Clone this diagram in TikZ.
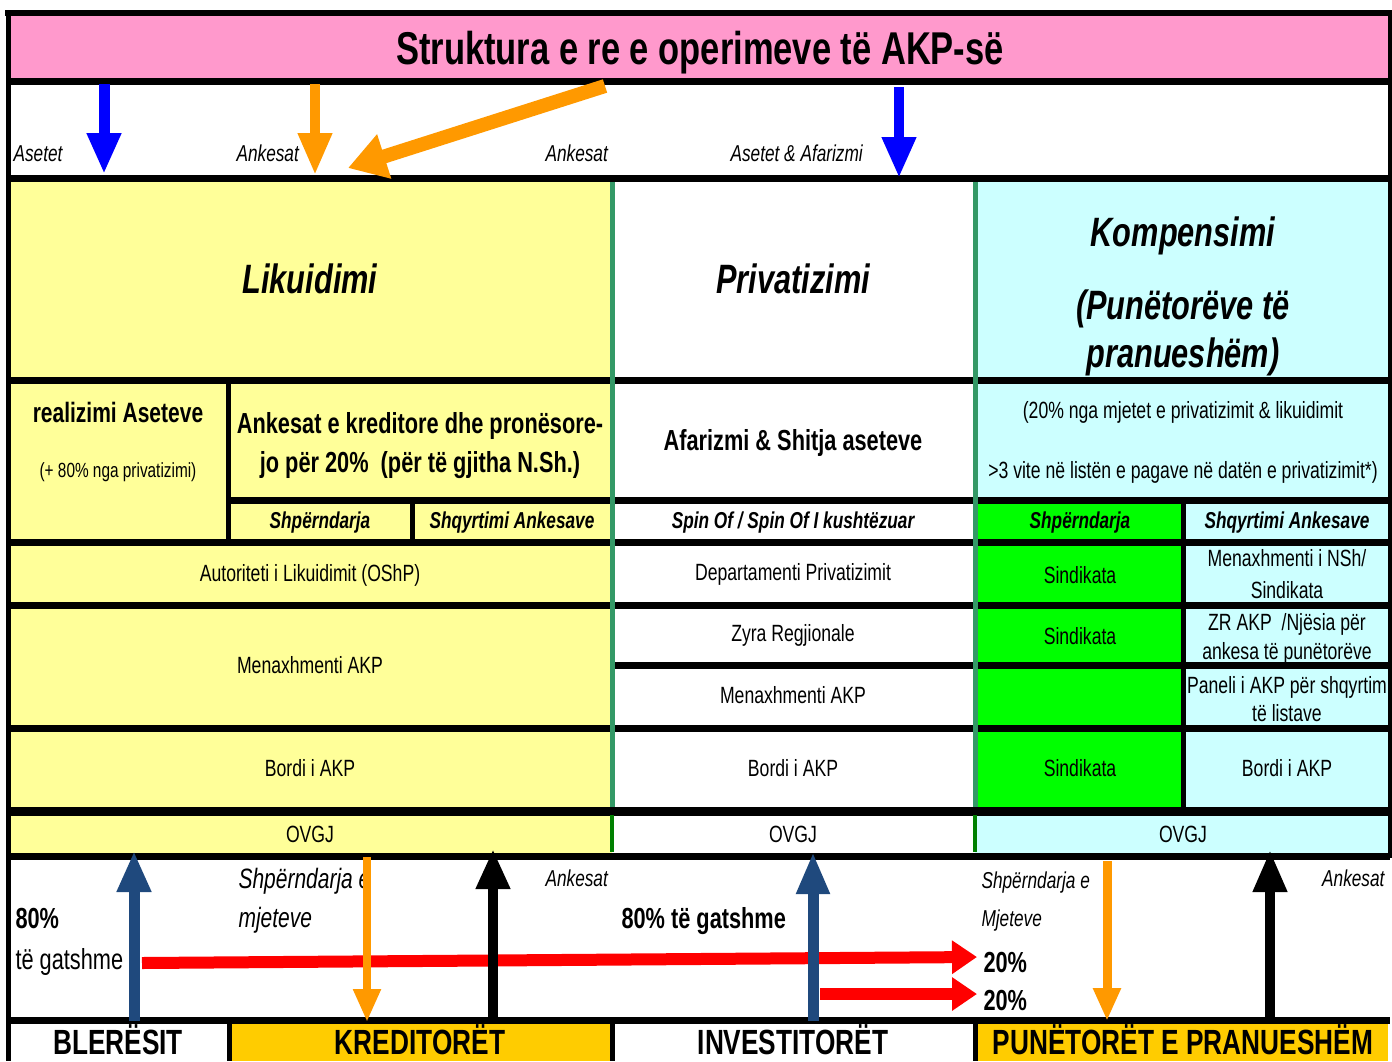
\documentclass[tikz,border=0pt]{standalone}
\usepackage{fontspec}
\setmainfont{Liberation Sans}[FakeStretch=0.75]
\usepackage{tikz}
\usetikzlibrary{arrows.meta}

\definecolor{titlepink}{HTML}{FF99CC}
\definecolor{liqyellow}{HTML}{FFFF99}
\definecolor{compcyan}{HTML}{CCFFFF}
\definecolor{uniongreen}{HTML}{00FF00}
\definecolor{partyorange}{HTML}{FFCC00}
\definecolor{arrorange}{HTML}{FF9900}
\definecolor{arrnavy}{HTML}{1F497D}
\definecolor{colsep}{HTML}{339966}
\definecolor{ovgjsep}{HTML}{008000}

\begin{document}
\begin{tikzpicture}[x=1pt,y=-1pt,
    blk/.style={line width=7pt},
    blkthin/.style={line width=5pt},
    celltxt/.style={anchor=base,font=\fontsize{23.5}{28}\selectfont},
    cellbold/.style={anchor=base,font=\bfseries\fontsize{29}{34}\selectfont},
    subhead/.style={anchor=base,font=\bfseries\itshape\fontsize{23}{28}\selectfont},
    colhead/.style={anchor=base,font=\bfseries\itshape\fontsize{41}{48}\selectfont},
    flowtxt/.style={anchor=base west,font=\itshape\fontsize{23}{28}\selectfont},
    party/.style={anchor=base,font=\bfseries\fontsize{35}{40}\selectfont},
    blockarrow/.style n args={4}{draw=#1,line width=#2,-{Triangle[length=#3,width=#4]}}]
\useasboundingbox (0,0) rectangle (1392,1061);

% backgrounds
\fill[titlepink] (8,13) rectangle (1390,81);
\fill[liqyellow] (8,178) rectangle (612,856);
\fill[compcyan] (975,178) rectangle (1390,856);
\fill[uniongreen] (975,500) rectangle (1183,811);
\fill[partyorange] (229,1020) rectangle (612,1061);
\fill[partyorange] (975,1020) rectangle (1388,1061);

% black rules
\draw[line width=6pt] (5,13) -- (1392,13);
\draw[blkthin] (8,10) -- (8,1061);
\draw[blkthin] (1390,10) -- (1390,858);
\foreach \yy in {81,178,380,542,605,728,856,1020}
  \draw[blk] (8,\yy) -- (1390,\yy);
\draw[line width=9pt] (8,811) -- (1390,811);
\draw[blk] (228,500) -- (1390,500);
\draw[blk] (612,665) -- (1390,665);
\draw[blkthin] (228,380) -- (228,542);
\draw[blkthin] (412,500) -- (412,542);
\draw[blkthin] (1183,500) -- (1183,811);
\foreach \xx in {229,612,975}
  \draw[blkthin] (\xx,1020) -- (\xx,1061);

% column dividers
\draw[colsep,line width=5pt] (612,182) -- (612,807);
\draw[colsep,line width=5pt] (975,182) -- (975,807);
\draw[ovgjsep,line width=4pt] (612,815) -- (612,852);
\draw[ovgjsep,line width=4pt] (975,815) -- (975,852);

% title
\node[anchor=base,font=\bfseries\fontsize{46}{52}\selectfont] (title) at (700,64) {Struktura e re e operimeve të AKP-së};

% flows from the top
\node[flowtxt] (tAsetet) at (10,161.5) {Asetet};
\node[flowtxt] (tAnkL) at (233,161.5) {Ankesat};
\node[flowtxt] (tAnkM) at (542,161.5) {Ankesat};
\node[flowtxt] (tAsetAf) at (727,161.5) {Asetet \& Afarizmi};

% column heads
\node[colhead] (likuid) at (310,293) {Likuidimi};
\node[colhead] (privat) at (793,293) {Privatizimi};
\node[colhead] (kompA) at (1183,246) {Kompensimi};
\node[colhead] (kompB) at (1183,319) {(Punëtorëve të};
\node[colhead] (kompC) at (1183,367) {pranueshëm)};

% second band
\node[cellbold,font=\bfseries\fontsize{28}{34}\selectfont] (realiz) at (118,422) {realizimi Aseteve};
\node[celltxt,font=\fontsize{20.5}{24}\selectfont] (realizB) at (118,477) {(+ 80\% nga privatizimi)};
\node[cellbold] (ankKredA) at (420,433.5) {Ankesat e kreditore dhe pronësore-};
\node[cellbold] (ankKredB) at (420,472.5) {jo për 20\%\ \ (për të gjitha N.Sh.)};
\node[subhead] (shpL) at (320,528) {Shpërndarja};
\node[subhead] (shqL) at (512,528) {Shqyrtimi Ankesave};
\node[cellbold] (afariz) at (793,450.5) {Afarizmi \& Shitja aseteve};
\node[subhead] (spinof) at (793,528) {Spin Of / Spin Of I kushtëzuar};
\node[celltxt] (kompTxtA) at (1183,418.5) {(20\% nga mjetet e privatizimit \& likuidimit};
\node[celltxt] (kompTxtB) at (1183,478.5) {>3 vite në listën e pagave në datën e privatizimit*)};
\node[subhead] (shpR) at (1080,528) {Shpërndarja};
\node[subhead] (shqR) at (1287,528) {Shqyrtimi Ankesave};

% bodies
\node[celltxt] (autor) at (310,581.5) {Autoriteti i Likuidimit (OShP)};
\node[celltxt] (menL) at (310,673.5) {Menaxhmenti AKP};
\node[celltxt] (bordL) at (310,776.5) {Bordi i AKP};
\node[celltxt] (ovgjL) at (310,842.5) {OVGJ};

\node[celltxt] (depPriv) at (793,580.5) {Departamenti Privatizimit};
\node[celltxt] (zyra) at (793,641.5) {Zyra Regjionale};
\node[celltxt] (menM) at (793,703.5) {Menaxhmenti AKP};
\node[celltxt] (bordM) at (793,776.5) {Bordi i AKP};
\node[celltxt] (ovgjM) at (793,842.5) {OVGJ};

\node[celltxt] (sindA) at (1080,583.5) {Sindikata};
\node[celltxt] (sindB) at (1080,644.5) {Sindikata};
\node[celltxt] (sindC) at (1080,776.5) {Sindikata};
\node[celltxt] (menNShA) at (1287,566.5) {Menaxhmenti i NSh/};
\node[celltxt] (menNShB) at (1287,598.5) {Sindikata};
\node[celltxt] (zrA) at (1287,630.5) {ZR AKP\ \ /Njësia për};
\node[celltxt] (zrB) at (1287,659.5) {ankesa të punëtorëve};
\node[celltxt] (panelA) at (1287,693.5) {Paneli i AKP për shqyrtim};
\node[celltxt] (panelB) at (1287,721.5) {të listave};
\node[celltxt] (bordR) at (1287,776.5) {Bordi i AKP};
\node[celltxt] (ovgjR) at (1183,842.5) {OVGJ};

% flows at the bottom
\node[flowtxt,font=\itshape\fontsize{28}{32}\selectfont] (shpMjA) at (235,888) {Shpërndarja e};
\node[flowtxt,font=\itshape\fontsize{28}{32}\selectfont] (shpMjB) at (235,927) {mjeteve};
\node[flowtxt] (ankBL) at (542,886.5) {Ankesat};
\node[anchor=base west,font=\bfseries\fontsize{29}{34}\selectfont] (gatA) at (12,928.5) {80\%};
\node[anchor=base west,font=\fontsize{29}{34}\selectfont] (gatB) at (12,969) {të gatshme};
\node[anchor=base west,font=\bfseries\fontsize{29}{34}\selectfont] (gatM) at (618,928.5) {80\% të gatshme};
\node[flowtxt] (shpRA) at (978,888.5) {Shpërndarja e};
\node[flowtxt] (shpRB) at (978,926.5) {Mjeteve};
\node[anchor=base west,font=\bfseries\fontsize{29}{34}\selectfont] (pctA) at (980,972.5) {20\%};
\node[anchor=base west,font=\bfseries\fontsize{29}{34}\selectfont] (pctB) at (980,1010.5) {20\%};
\node[flowtxt,anchor=base east] (ankBR) at (1388,886.5) {Ankesat};

% parties
\node[party] (blere) at (118,1054.6) {BLERËSIT};
\node[party] (kredit) at (420,1054.6) {KREDITORËT};
\node[party] (invest) at (793,1054.6) {INVESTITORËT};
\node[party] (punet) at (1183,1054.6) {PUNËTORËT E PRANUESHËM};

% arrow ends
\coordinate (aBlueS) at (104,84);   \coordinate (aBlueE) at (104,174);
\coordinate (aOrS) at (315,84);     \coordinate (aOrE) at (315,175);
\coordinate (aDiagS) at (605,86);   \coordinate (aDiagE) at (348,168);
\coordinate (aBlue2S) at (899,87);  \coordinate (aBlue2E) at (899,178);
\coordinate (bNavyS) at (134,1021); \coordinate (bNavyE) at (134,851);
\coordinate (bOrS) at (367,857);    \coordinate (bOrE) at (367,1022);
\coordinate (bBlkS) at (493,1021);  \coordinate (bBlkE) at (493,849);
\coordinate (bNavy2S) at (813,1021);\coordinate (bNavy2E) at (813,852);
\coordinate (bOr2S) at (1107,861);  \coordinate (bOr2E) at (1107,1021);
\coordinate (bBlk2S) at (1270,1021);\coordinate (bBlk2E) at (1270,850);
\coordinate (rLongS) at (142,963);  \coordinate (rLongE) at (977,957);
\coordinate (rShortS) at (820,994); \coordinate (rShortE) at (977,994);

\draw[blockarrow={red}{12pt}{25pt}{32pt}] (rLongS) -- (rLongE);
\draw[blockarrow={red}{12pt}{25pt}{32pt}] (rShortS) -- (rShortE);

\draw[blockarrow={blue}{11pt}{41pt}{32pt}] (aBlueS) -- (aBlueE);
\draw[blockarrow={arrorange}{10pt}{42pt}{32pt}] (aOrS) -- (aOrE);
\draw[blockarrow={arrorange}{14pt}{38pt}{44pt}] (aDiagS) -- (aDiagE);
\draw[blockarrow={blue}{10pt}{41pt}{32pt}] (aBlue2S) -- (aBlue2E);

\draw[blockarrow={arrnavy}{11pt}{41pt}{32pt}] (bNavyS) -- (bNavyE);
\draw[blockarrow={arrorange}{8pt}{33pt}{26pt}] (bOrS) -- (bOrE);
\draw[blockarrow={black}{10pt}{40pt}{32pt}] (bBlkS) -- (bBlkE);
\draw[blockarrow={arrnavy}{11pt}{42pt}{31pt}] (bNavy2S) -- (bNavy2E);
\draw[blockarrow={arrorange}{9pt}{33pt}{26pt}] (bOr2S) -- (bOr2E);
\draw[blockarrow={black}{10pt}{42pt}{32pt}] (bBlk2S) -- (bBlk2E);
\end{tikzpicture}
\end{document}
